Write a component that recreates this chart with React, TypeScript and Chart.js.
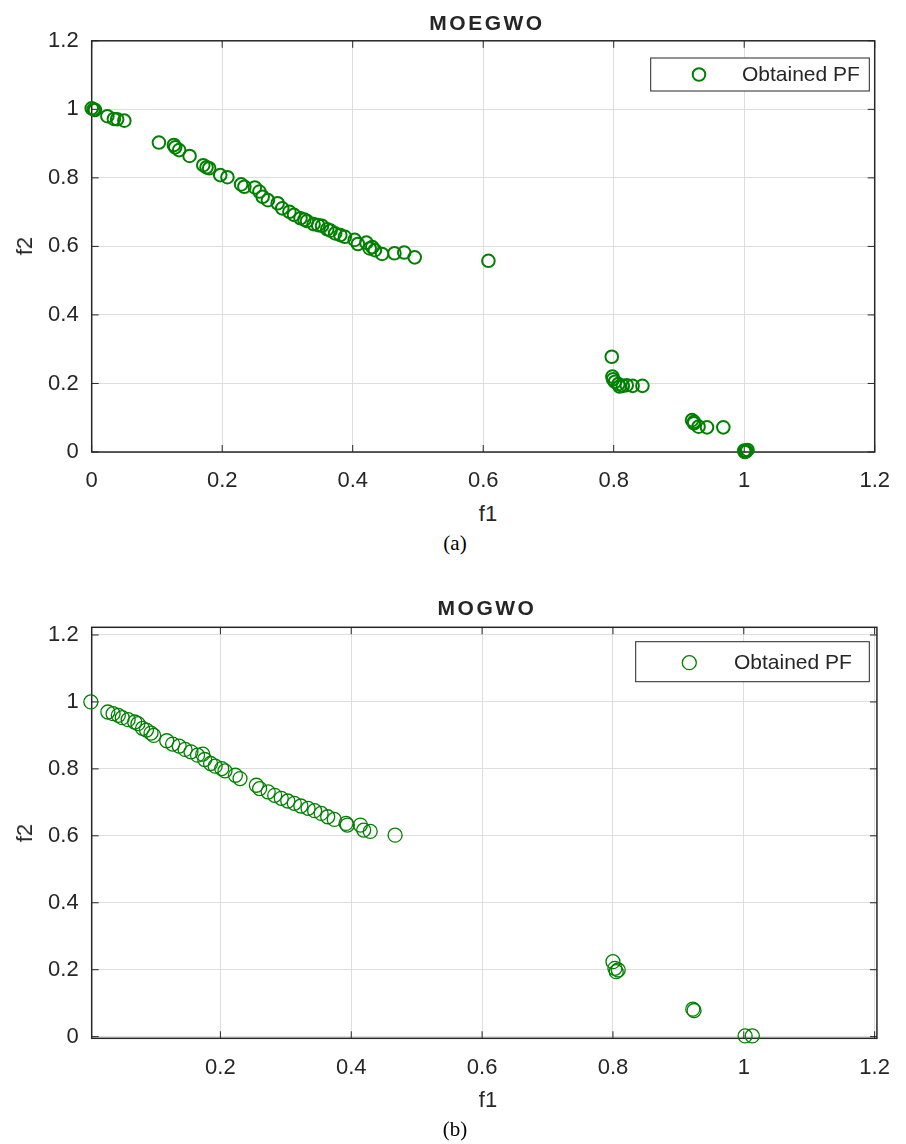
import React, { useEffect, useRef } from "react";
import { Chart, registerables } from "chart.js";

Chart.register(...registerables);

// ---------- data ----------
const moegwoF1 = [
  0.0, 0.003, 0.005, 0.024, 0.034, 0.039, 0.05, 0.103, 0.126, 0.128,
  0.134, 0.15, 0.171, 0.176, 0.18, 0.197, 0.208, 0.229, 0.234, 0.25,
  0.257, 0.262, 0.27, 0.285, 0.292, 0.303, 0.31, 0.32, 0.326, 0.33,
  0.34, 0.347, 0.353, 0.361, 0.366, 0.373, 0.381, 0.388, 0.403, 0.408,
  0.421, 0.426, 0.43, 0.434, 0.445, 0.464, 0.479, 0.495, 0.608, 0.797,
  0.798, 0.799, 0.802, 0.807, 0.809, 0.814, 0.82, 0.829, 0.844, 0.92,
  0.923, 0.923, 0.93, 0.943, 0.968, 1.0, 1.001, 1.003, 1.005,
];
const moegwoF2 = [
  1.003, 1.0, 0.998, 0.98, 0.972, 0.971, 0.967, 0.903, 0.896, 0.889,
  0.881, 0.864, 0.837, 0.831, 0.828, 0.808, 0.802, 0.781, 0.774, 0.772,
  0.76, 0.745, 0.735, 0.726, 0.711, 0.701, 0.692, 0.682, 0.678, 0.674,
  0.665, 0.662, 0.66, 0.65, 0.646, 0.638, 0.633, 0.628, 0.619, 0.607,
  0.611, 0.594, 0.598, 0.589, 0.578, 0.58, 0.582, 0.568, 0.558, 0.278,
  0.22, 0.212, 0.205, 0.198, 0.191, 0.193, 0.195, 0.193, 0.193, 0.093,
  0.088, 0.084, 0.074, 0.072, 0.072, 0.004, 0.0, 0.002, 0.006,
];

const mogwoF1 = [
  0.002, 0.028, 0.036, 0.044, 0.05, 0.059, 0.069, 0.074, 0.081, 0.087,
  0.094, 0.098, 0.118, 0.127, 0.137, 0.146, 0.155, 0.165, 0.173, 0.176,
  0.185, 0.192, 0.202, 0.207, 0.223, 0.23, 0.255, 0.26, 0.273, 0.283,
  0.293, 0.303, 0.313, 0.323, 0.334, 0.344, 0.354, 0.364, 0.374, 0.392,
  0.394, 0.414, 0.419, 0.429, 0.467, 0.8, 0.803, 0.805, 0.808, 0.922,
  0.924, 1.002, 1.013,
];
const mogwoF2 = [
  1.0, 0.97, 0.965, 0.96, 0.953, 0.947, 0.94, 0.935, 0.921, 0.916,
  0.907, 0.9, 0.884, 0.874, 0.868, 0.858, 0.851, 0.841, 0.844, 0.828,
  0.816, 0.808, 0.801, 0.794, 0.781, 0.771, 0.751, 0.741, 0.731, 0.721,
  0.712, 0.704, 0.697, 0.689, 0.682, 0.675, 0.667, 0.657, 0.649, 0.637,
  0.632, 0.632, 0.617, 0.613, 0.602, 0.224, 0.204, 0.194, 0.199, 0.082,
  0.078, 0.002, 0.002,
];

const xTicksA = [0, 0.2, 0.4, 0.6, 0.8, 1, 1.2];
const yTicksA = [0, 0.2, 0.4, 0.6, 0.8, 1, 1.2];
const xTicksB = [0.2, 0.4, 0.6, 0.8, 1, 1.2];
const yTicksB = [0, 0.2, 0.4, 0.6, 0.8, 1, 1.2];

const seriesLabel = "Obtained PF";
const titleA = "MOEGWO";
const titleB = "MOGWO";
const captionA = "(a)";
const captionB = "(b)";
const xAxisTitle = "f1";
const yAxisTitle = "f2";

// ---------- styling ----------
const FONT = '"Liberation Sans", Arial, Helvetica, sans-serif';
const SERIF = '"Liberation Serif", "Times New Roman", Times, serif';
const INK = "#262626";
const GRID = "#dedede";
const GREEN = "#008000";
const W = 906;
const CANVAS_H = 500;

const fmt = (v: number) => String(Number(Number(v).toFixed(2)));

const framePlugin = {
  id: "matlabFrame",
  beforeDatasetsDraw(chart: any, _args: any, opts: any) {
    const { ctx, chartArea: a, scales } = chart;
    ctx.save();
    ctx.strokeStyle = INK;
    ctx.lineWidth = 1;
    const L = opts.tickLen;
    ctx.beginPath();
    scales.x.ticks.forEach((t: any) => {
      const px = scales.x.getPixelForValue(t.value);
      ctx.moveTo(px, a.bottom);
      ctx.lineTo(px, a.bottom - L);
      ctx.moveTo(px, a.top);
      ctx.lineTo(px, a.top + L);
    });
    scales.y.ticks.forEach((t: any) => {
      const py = scales.y.getPixelForValue(t.value);
      ctx.moveTo(a.left, py);
      ctx.lineTo(a.left + L, py);
      ctx.moveTo(a.right, py);
      ctx.lineTo(a.right - L, py);
    });
    ctx.stroke();
    ctx.lineWidth = opts.frameWidth;
    ctx.strokeRect(a.left, a.top, a.right - a.left, a.bottom - a.top);
    ctx.restore();
  },
  afterDatasetsDraw(chart: any, _args: any, opts: any) {
    const { ctx } = chart;
    const lg = opts.legend;
    ctx.save();
    ctx.fillStyle = "#ffffff";
    ctx.fillRect(lg.x0, lg.y0, lg.x1 - lg.x0, lg.y1 - lg.y0);
    ctx.strokeStyle = INK;
    ctx.lineWidth = 1;
    ctx.strokeRect(lg.x0, lg.y0, lg.x1 - lg.x0, lg.y1 - lg.y0);
    ctx.beginPath();
    ctx.arc(lg.mx, lg.my, opts.markerRadius, 0, Math.PI * 2);
    ctx.strokeStyle = GREEN;
    ctx.lineWidth = opts.markerWidth;
    ctx.stroke();
    ctx.fillStyle = INK;
    ctx.font = `21px ${FONT}`;
    ctx.textAlign = "left";
    ctx.textBaseline = "middle";
    ctx.fillText(opts.label, lg.tx, lg.my + 1);
    ctx.restore();
  },
};

type PanelProps = {
  top: number;
  f1: number[];
  f2: number[];
  xTicks: number[];
  yTicks: number[];
  xMin: number;
  xMax: number;
  yMin: number;
  yMax: number;
  area: { left: number; right: number; top: number; bottom: number };
  markerRadius: number;
  markerWidth: number;
  legend: { x0: number; y0: number; x1: number; y1: number; mx: number; my: number; tx: number };
};

function Panel(p: PanelProps) {
  const ref = useRef<HTMLCanvasElement | null>(null);
  useEffect(() => {
    if (!ref.current) return;
    const tickFont = { family: FONT, size: 22 };
    const chart = new Chart(ref.current, {
      type: "scatter",
      data: {
        datasets: [
          {
            label: seriesLabel,
            data: p.f1.map((x, i) => ({ x, y: p.f2[i] })),
            pointStyle: "circle",
            pointRadius: p.markerRadius,
            pointHoverRadius: p.markerRadius,
            pointBorderWidth: p.markerWidth,
            pointBorderColor: GREEN,
            pointBackgroundColor: "rgba(0,0,0,0)",
            showLine: false,
            clip: false as any,
          },
        ],
      },
      options: {
        responsive: false,
        animation: false,
        events: [],
        layout: {
          padding: { left: 0, top: p.area.top, right: W - p.area.right, bottom: 0 },
        },
        plugins: {
          legend: { display: false },
          tooltip: { enabled: false },
          title: { display: false },
          matlabFrame: {
            tickLen: 7,
            frameWidth: 1.5,
            legend: p.legend,
            label: seriesLabel,
            markerRadius: p.markerRadius,
            markerWidth: p.markerWidth,
          },
        } as any,
        scales: {
          x: {
            type: "linear",
            min: p.xMin,
            max: p.xMax,
            afterBuildTicks: (s: any) => {
              s.ticks = p.xTicks.map((v) => ({ value: v }));
            },
            afterFit: (s: any) => {
              s.height = CANVAS_H - p.area.bottom;
            },
            grid: { color: GRID, lineWidth: 1, drawTicks: false },
            border: { display: false },
            ticks: {
              padding: 16,
              color: INK,
              font: tickFont,
              maxRotation: 0,
              autoSkip: false,
              callback: (v: any) => fmt(v),
            },
          },
          y: {
            type: "linear",
            min: p.yMin,
            max: p.yMax,
            afterBuildTicks: (s: any) => {
              s.ticks = p.yTicks.map((v) => ({ value: v }));
            },
            afterFit: (s: any) => {
              s.width = p.area.left;
            },
            grid: { color: GRID, lineWidth: 1, drawTicks: false },
            border: { display: false },
            ticks: {
              padding: 13,
              color: INK,
              font: tickFont,
              autoSkip: false,
              callback: (v: any) => fmt(v),
            },
          },
        },
      },
      plugins: [framePlugin as any],
    });
    return () => chart.destroy();
  }, []);
  return (
    <canvas
      ref={ref}
      width={W}
      height={CANVAS_H}
      style={{ position: "absolute", left: 0, top: p.top, width: W, height: CANVAS_H }}
    />
  );
}

function Label(props: {
  x: number;
  y: number;
  text: string;
  size: number;
  bold?: boolean;
  serif?: boolean;
  rotate?: boolean;
  spacing?: number;
}) {
  return (
    <div
      style={{
        position: "absolute",
        left: props.x,
        top: props.y,
        transform: `translate(-50%, -50%)${props.rotate ? " rotate(-90deg)" : ""}`,
        fontFamily: props.serif ? SERIF : FONT,
        fontSize: props.size,
        fontWeight: props.bold ? 700 : 400,
        letterSpacing: props.spacing ? `${props.spacing}px` : undefined,
        lineHeight: 1,
        whiteSpace: "nowrap",
        color: props.serif ? "#000000" : INK,
      }}
    >
      {props.text}
    </div>
  );
}

export default function App() {
  const topB = 590;
  return (
    <div
      style={{
        position: "absolute",
        left: 0,
        top: 0,
        width: W,
        height: 1144,
        background: "#ffffff",
        overflow: "hidden",
      }}
    >
      <Panel
        top={0}
        f1={moegwoF1}
        f2={moegwoF2}
        xTicks={xTicksA}
        yTicks={yTicksA}
        xMin={0}
        xMax={1.2}
        yMin={0}
        yMax={1.2}
        area={{ left: 91.7, right: 885, top: 40.8, bottom: 452 }}
        markerRadius={6.3}
        markerWidth={2}
        legend={{ x0: 650.7, y0: 58, x1: 869.3, y1: 91, mx: 699, my: 74.5, tx: 742 }}
      />
      <Panel
        top={topB}
        f1={mogwoF1}
        f2={mogwoF2}
        xTicks={xTicksB}
        yTicks={yTicksB}
        xMin={0.0033}
        xMax={1.2035}
        yMin={-0.005}
        yMax={1.223}
        area={{ left: 91.7, right: 885, top: 627.3 - topB, bottom: 1038.3 - topB }}
        markerRadius={7}
        markerWidth={1.3}
        legend={{
          x0: 635.7,
          y0: 641.7 - topB,
          x1: 869.3,
          y1: 681.7 - topB,
          mx: 689.3,
          my: 662.7 - topB,
          tx: 734,
        }}
      />
      <Label x={487} y={22} text={titleA} size={21} bold spacing={2.5} />
      <Label x={488} y={514} text={xAxisTitle} size={22} />
      <Label x={25} y={246.4} text={yAxisTitle} size={22} rotate />
      <Label x={455} y={543} text={captionA} size={21} serif />
      <Label x={487} y={607} text={titleB} size={21} bold spacing={2.5} />
      <Label x={488} y={1100} text={xAxisTitle} size={22} />
      <Label x={25} y={833} text={yAxisTitle} size={22} rotate />
      <Label x={455} y={1129} text={captionB} size={21} serif />
    </div>
  );
}
